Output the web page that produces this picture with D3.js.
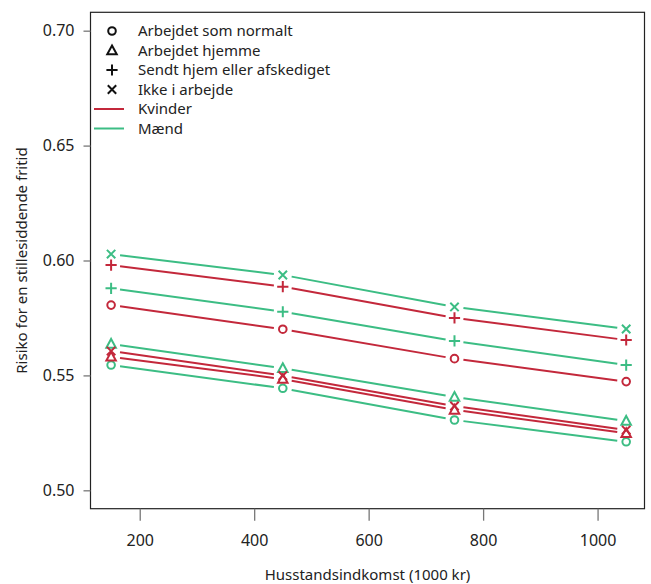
<!DOCTYPE html>
<html>
<head>
<meta charset="utf-8">
<script src="https://cdn.jsdelivr.net/npm/d3@7"></script>
<style>
  body { margin: 0; background: #fff; }
  svg { display: block; }
  text { font-family: "Noto Sans", sans-serif; fill: #222; }
</style>
</head>
<body>
<script>
// income points (1000 kr)
var incomes = [150, 450, 750, 1050];

// work status groups (legend order) and their R-style pch
var statuses = ["Arbejdet som normalt", "Arbejdet hjemme", "Sendt hjem eller afskediget", "Ikke i arbejde"];
var shapes = ["circle", "triangle", "plus", "cross"];

var genders = ["Kvinder", "Mænd"];
var colors = ["#c3283b", "#3cbd84"];

// risk, one row per status
var kvinder = [
    [0.5806, 0.5701, 0.5573, 0.5473],
    [0.5581, 0.5484, 0.5350, 0.5248],
    [0.5980, 0.5886, 0.5750, 0.5654],
    [0.5606, 0.5499, 0.5367, 0.5262]
];
var maend = [
    [0.5545, 0.5444, 0.5306, 0.5211],
    [0.5637, 0.5531, 0.5406, 0.5302],
    [0.5879, 0.5777, 0.5650, 0.5545],
    [0.6028, 0.5937, 0.5798, 0.5702]
];

var xTicks = [200, 400, 600, 800, 1000];
var yTicks = [0.50, 0.55, 0.60, 0.65, 0.70];

var width = 651, height = 584;
var box = {left: 90.5, right: 644.5, top: 12.3, bottom: 508.7};

var x = d3.scaleLinear().domain([114, 1082]).range([box.left, box.right]);
var y = d3.scaleLinear().domain([0.492, 0.708]).range([box.bottom, box.top]);

var svg = d3.select("body").append("svg")
    .attr("width", width)
    .attr("height", height);

// plot frame
svg.append("rect")
    .attr("x", box.left).attr("y", box.top)
    .attr("width", box.right - box.left)
    .attr("height", box.bottom - box.top)
    .attr("fill", "none")
    .attr("stroke", "#222")
    .attr("stroke-width", 1.2);

// axes
var xAxis = svg.append("g")
    .attr("transform", "translate(0," + box.bottom + ")")
    .call(d3.axisBottom(x).tickValues(xTicks).tickSize(12).tickPadding(14).tickFormat(d3.format("d")));
var yAxis = svg.append("g")
    .attr("transform", "translate(" + box.left + ",0)")
    .call(d3.axisLeft(y).tickValues(yTicks).tickSize(7).tickPadding(9).tickFormat(d3.format(".2f")));

[xAxis, yAxis].forEach(function (g) {
    g.select(".domain").remove();
    g.selectAll(".tick line").attr("stroke", "#777").attr("stroke-width", 1.3);
    g.selectAll(".tick text")
        .style("font-family", "Noto Sans, sans-serif")
        .style("font-size", "16px")
        .attr("fill", "#222");
});

svg.append("text")
    .attr("x", (box.left + box.right) / 2)
    .attr("y", 580)
    .attr("text-anchor", "middle")
    .style("font-size", "15px")
    .text("Husstandsindkomst (1000 kr)");

svg.append("text")
    .attr("transform", "translate(27," + ((box.top + box.bottom) / 2) + ") rotate(-90)")
    .attr("text-anchor", "middle")
    .style("font-size", "15px")
    .text("Risiko for en stillesiddende fritid");

// marker drawing, open symbols like R pch 1-4
function marker(g, shape, color, cx, cy) {
    var m = g.append("path")
        .attr("transform", "translate(" + cx + "," + cy + ")")
        .attr("fill", "none")
        .attr("stroke", color)
        .attr("stroke-width", 2);
    var r = 3.8;
    if (shape === "circle") {
        m.attr("d", d3.symbol().type(d3.symbolCircle).size(Math.PI * r * r)());
    } else if (shape === "triangle") {
        var h = 5;
        m.attr("d", "M0," + (-h) + "L" + (h * 0.95) + "," + (h * 0.75) + "L" + (-h * 0.95) + "," + (h * 0.75) + "Z");
    } else if (shape === "plus") {
        var p = 5.6;
        m.attr("d", "M" + (-p) + ",0H" + p + "M0," + (-p) + "V" + p);
    } else {
        var c = 4.2;
        m.attr("d", "M" + (-c) + "," + (-c) + "L" + c + "," + c + "M" + (-c) + "," + c + "L" + c + "," + (-c));
    }
}

var series = [];
statuses.forEach(function (s, i) {
    series.push({gender: 0, shape: shapes[i], values: kvinder[i]});
    series.push({gender: 1, shape: shapes[i], values: maend[i]});
});

var plot = svg.append("g");
var gap = 9;

series.forEach(function (s) {
    var col = colors[s.gender];
    var pts = s.values.map(function (v, k) { return [x(incomes[k]), y(v)]; });
    // type = "b": segments stop short of the points
    for (var k = 0; k < pts.length - 1; k++) {
        var a = pts[k], b = pts[k + 1];
        var dx = b[0] - a[0], dy = b[1] - a[1];
        var len = Math.sqrt(dx * dx + dy * dy);
        var ux = dx / len, uy = dy / len;
        plot.append("line")
            .attr("x1", a[0] + ux * gap).attr("y1", a[1] + uy * gap)
            .attr("x2", b[0] - ux * gap).attr("y2", b[1] - uy * gap)
            .attr("stroke", col)
            .attr("stroke-width", 2);
    }
    pts.forEach(function (p) { marker(plot, s.shape, col, p[0], p[1]); });
});

// legend
var legend = svg.append("g");
var rowY = [31, 50.5, 70, 89.5, 109, 128.5];
statuses.forEach(function (s, i) {
    marker(legend, shapes[i], "#111", 112, rowY[i]);
});
genders.forEach(function (gname, i) {
    legend.append("line")
        .attr("x1", 94).attr("x2", 124)
        .attr("y1", rowY[4 + i]).attr("y2", rowY[4 + i])
        .attr("stroke", colors[i])
        .attr("stroke-width", 2);
});
statuses.concat(genders).forEach(function (t, i) {
    legend.append("text")
        .attr("x", 138)
        .attr("y", rowY[i])
        .attr("dy", "0.35em")
        .style("font-size", "15px")
        .text(t);
});
</script>
</body>
</html>
